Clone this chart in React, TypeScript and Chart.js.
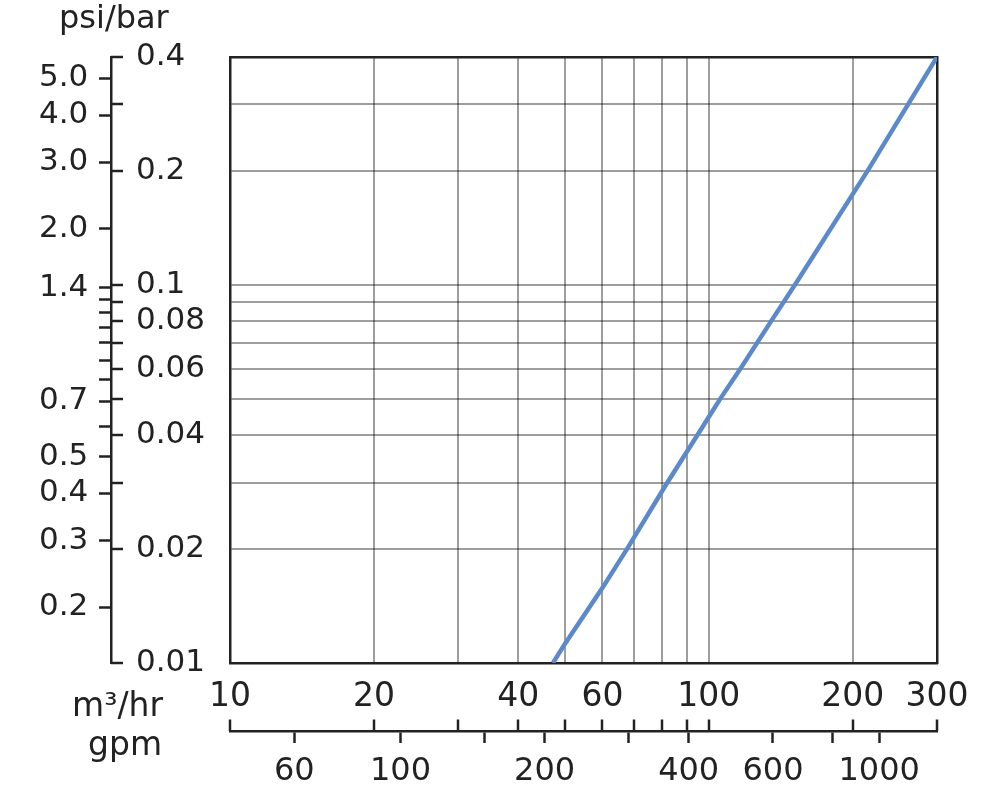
import React, { useEffect, useRef } from 'react';
import { Chart, registerables } from 'chart.js';

Chart.register(...registerables);

// Pressure drop curve (flow in m³/hr, pressure drop in bar)
const flowM3h = [47.3, 50, 60, 67.5, 82, 94.7, 105.8, 116.5, 135, 151.5, 214.8, 300];
const dropBar = [0.01, 0.0112, 0.0158, 0.02, 0.03, 0.04, 0.05, 0.06, 0.08, 0.1, 0.2, 0.4];

// Axis ranges
const FLOW_MIN = 10;
const FLOW_MAX = 300;
const BAR_MIN = 0.01;
const BAR_MAX = 0.4;
const GPM_PER_M3H = 4.403;
const PSI_PER_BAR = 14.24;

// Ticks and labels
const flowTicks = [10, 20, 30, 40, 50, 60, 70, 80, 90, 100, 200, 300];
const flowLabels = ['10', '20', '40', '60', '100', '200', '300'];
const gpmTicks = [60, 100, 150, 200, 300, 400, 600, 800, 1000];
const gpmLabels = ['60', '100', '200', '400', '600', '1000'];
const barTicks = [0.01, 0.02, 0.03, 0.04, 0.05, 0.06, 0.07, 0.08, 0.09, 0.1, 0.2, 0.3, 0.4];
const barLabels = ['0.01', '0.02', '0.04', '0.06', '0.08', '0.1', '0.2', '0.4'];
const psiTicks = [0.2, 0.3, 0.4, 0.5, 0.6, 0.7, 0.8, 0.9, 1.0, 1.1, 1.2, 1.3, 1.4, 2, 3, 4, 5];
const psiLabels = ['0.2', '0.3', '0.4', '0.5', '0.7', '1.4', '2.0', '3.0', '4.0', '5.0'];

const FONT = '"DejaVu Sans", sans-serif';
const INK = '#222222';
const GRID = 'rgba(0,0,0,0.38)';
const LINE = '#5b89c9';

const labelFrom = (list: string[]) => (v: number | string) => {
  const n = Number(v);
  const hit = list.find((l) => Math.abs(parseFloat(l) - n) <= 1e-6 * Math.max(1, Math.abs(n)));
  return hit ?? '';
};

const setTicks = (values: number[]) => (scale: any) => {
  scale.ticks = values.map((value) => ({ value }));
};

const textPlugin = {
  id: 'cornerTexts',
  afterDraw(chart: any) {
    const ctx = chart.ctx;
    ctx.save();
    ctx.fillStyle = INK;
    ctx.textBaseline = 'alphabetic';
    ctx.textAlign = 'left';
    ctx.font = `32px ${FONT}`;
    ctx.fillText('psi/bar', 59, 28);
    ctx.font = `33px ${FONT}`;
    ctx.fillText('m³/hr', 72, 716);
    ctx.fillText('gpm', 88, 755);
    ctx.restore();
  },
};

export default function App() {
  const ref = useRef<HTMLCanvasElement | null>(null);

  useEffect(() => {
    if (!ref.current) return;
    const chart = new Chart(ref.current, {
      type: 'scatter',
      data: {
        datasets: [
          {
            data: flowM3h.map((x, i) => ({ x, y: dropBar[i] })),
            showLine: true,
            borderColor: LINE,
            backgroundColor: LINE,
            borderWidth: 4.5,
            pointRadius: 0,
            tension: 0,
            xAxisID: 'x',
            yAxisID: 'y',
          },
        ],
      },
      plugins: [textPlugin],
      options: {
        animation: false,
        responsive: false,
        devicePixelRatio: 1,
        events: [],
        layout: { padding: { left: 39, right: 63, top: 57, bottom: 0 } },
        plugins: {
          legend: { display: false },
          tooltip: { enabled: false },
          title: { display: false },
        },
        scales: {
          x: {
            type: 'logarithmic',
            position: 'bottom',
            weight: 0,
            min: FLOW_MIN,
            max: FLOW_MAX,
            afterBuildTicks: setTicks(flowTicks),
            afterFit: (s: any) => {
              s.height = 68;
            },
            grid: {
              color: GRID,
              lineWidth: 2,
              drawTicks: true,
              tickLength: 68,
              tickColor: INK,
              tickWidth: 2.5,
              tickBorderDash: [13, 55],
              tickBorderDashOffset: 13,
            },
            border: { display: true, color: INK, width: 2.5 },
            ticks: {
              autoSkip: false,
              maxRotation: 0,
              minRotation: 0,
              padding: -53,
              color: INK,
              font: { family: FONT, size: 33 },
              callback: labelFrom(flowLabels),
            },
          },
          xGpm: {
            type: 'logarithmic',
            position: 'bottom',
            weight: 1,
            min: FLOW_MIN * GPM_PER_M3H,
            max: FLOW_MAX * GPM_PER_M3H,
            afterBuildTicks: setTicks(gpmTicks),
            afterFit: (s: any) => {
              s.height = 62;
            },
            grid: {
              drawOnChartArea: false,
              drawTicks: true,
              tickLength: 12,
              tickColor: INK,
              tickWidth: 2.5,
            },
            border: { display: true, color: INK, width: 2.5 },
            ticks: {
              autoSkip: false,
              maxRotation: 0,
              minRotation: 0,
              padding: 9,
              color: INK,
              font: { family: FONT, size: 32 },
              callback: labelFrom(gpmLabels),
            },
          },
          xTop: {
            type: 'linear',
            position: 'top',
            afterFit: (s: any) => {
              s.height = 0;
            },
            grid: { drawOnChartArea: false, drawTicks: false },
            border: { display: true, color: INK, width: 2.5 },
            ticks: { display: false },
          },
          y: {
            type: 'logarithmic',
            position: 'left',
            weight: 0,
            min: BAR_MIN,
            max: BAR_MAX,
            afterBuildTicks: setTicks(barTicks),
            afterFit: (s: any) => {
              s.width = 119;
            },
            grid: {
              color: GRID,
              lineWidth: 2,
              drawTicks: true,
              tickLength: 119,
              tickColor: INK,
              tickWidth: 2.5,
              tickBorderDash: [12, 400],
            },
            border: { display: true, color: INK, width: 2.5 },
            ticks: {
              autoSkip: false,
              mirror: true,
              crossAlign: 'near',
              padding: -94,
              color: INK,
              font: { family: FONT, size: 31 },
              callback: labelFrom(barLabels),
            },
          },
          yPsi: {
            type: 'logarithmic',
            position: 'left',
            weight: 1,
            min: BAR_MIN * PSI_PER_BAR,
            max: BAR_MAX * PSI_PER_BAR,
            afterBuildTicks: setTicks(psiTicks),
            afterFit: (s: any) => {
              s.width = 72;
            },
            grid: {
              drawOnChartArea: false,
              drawTicks: true,
              tickLength: 12,
              tickColor: INK,
              tickWidth: 2.5,
            },
            border: { display: true, color: INK, width: 2.5 },
            ticks: {
              autoSkip: false,
              crossAlign: 'far',
              color: INK,
              font: { family: FONT, size: 31 },
              callback: labelFrom(psiLabels),
            },
          },
          yRight: {
            type: 'linear',
            position: 'right',
            afterFit: (s: any) => {
              s.width = 0;
            },
            grid: { drawOnChartArea: false, drawTicks: false },
            border: { display: true, color: INK, width: 2.5 },
            ticks: { display: false },
          },
        },
      } as any,
    });
    return () => chart.destroy();
  }, []);

  return (
    <div style={{ position: 'absolute', left: 0, top: 0, width: 1000, height: 793, background: '#fff' }}>
      <canvas ref={ref} width={1000} height={793} style={{ display: 'block', width: 1000, height: 793 }} />
    </div>
  );
}
